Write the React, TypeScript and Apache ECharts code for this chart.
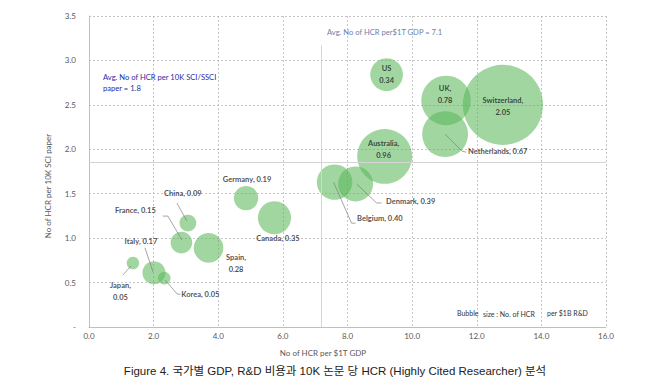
import React, { useEffect, useRef } from 'react';
import * as echarts from 'echarts';

const countries = ['Japan', 'Korea', 'Italy', 'France', 'China', 'Spain', 'Germany', 'Canada', 'Belgium', 'Denmark', 'Australia', 'US', 'Netherlands', 'UK', 'Switzerland'];
const hcrPerGdp = [1.36, 2.33, 2.01, 2.86, 3.06, 3.70, 4.86, 5.74, 7.60, 8.25, 9.15, 9.21, 11.02, 11.05, 12.81];
const hcrPerPaper = [0.72, 0.55, 0.61, 0.95, 1.17, 0.89, 1.45, 1.23, 1.63, 1.61, 1.92, 2.84, 2.17, 2.55, 2.50];
const hcrPerRD = [0.05, 0.05, 0.17, 0.15, 0.09, 0.28, 0.19, 0.35, 0.40, 0.39, 0.96, 0.34, 0.67, 0.78, 2.05];

const avgGdpLine = 7.2;
const avgPaperLine = 1.85;
const avgGdpText = 'Avg. No of HCR per$1T GDP = 7.1';
const avgPaperText = 'Avg. No of HCR per 10K SCI/SSCI\npaper = 1.8';

const xMin = 0, xMax = 16, xStep = 2;
const yMin = 0, yMax = 3.5, yStep = 0.5;

type LS = { off: [number, number]; align?: 'left' | 'center'; lines?: 1 | 2; comma?: boolean; leader?: number[][] };
const labelStyle: Record<string, LS> = {
  Japan: { off: [-12.5, 28.5], lines: 2, leader: [[-2, 3], [-10, 12]] },
  Korea: { off: [17, 16.5], align: 'left', leader: [[1, 2], [13, 16], [16, 16]] },
  Italy: { off: [-13, -31], leader: [[-9, -25], [-1, -1]] },
  France: { off: [-46, -32.5], leader: [[-18.5, -26.5], [-13.5, -26.5], [0.5, -2.5]] },
  China: { off: [-5, -30], leader: [[-11, -20], [-1, -2]] },
  Spain: { off: [27.5, 15.5], lines: 2 },
  Germany: { off: [1, -19] },
  Canada: { off: [3.5, 20.5] },
  Belgium: { off: [22.5, 36.5], align: 'left', leader: [[-1, 0], [17, 41], [21, 41]] },
  Denmark: { off: [30.5, 17.5], align: 'left', leader: [[1, 0], [21, 19], [26, 19]] },
  Australia: { off: [-1, -7], lines: 2 },
  US: { off: [0, 0], lines: 2, comma: false },
  Netherlands: { off: [23, 17.5], align: 'left', leader: [[0, 0], [17, 17], [21, 18]] },
  UK: { off: [-1, -6], lines: 2 },
  Switzerland: { off: [0, 2], lines: 2 },
};

const FONT = 'Lato, "Noto Sans", sans-serif';

export default function App() {
  const ref = useRef<HTMLDivElement>(null);
  useEffect(() => {
    if (!ref.current) return;
    const chart = echarts.init(ref.current, undefined, { renderer: 'svg' });
    const data = countries.map((c, i) => {
      const s = labelStyle[c];
      const v = hcrPerRD[i].toFixed(2);
      const txt = s.lines === 2 ? (s.comma === false ? `${c}\n${v}` : `${c},\n${v}`) : `${c}, ${v}`;
      return {
        name: c,
        value: [hcrPerGdp[i], hcrPerPaper[i], hcrPerRD[i]],
        label: {
          formatter: txt,
          offset: s.off,
          align: s.align || 'center',
        },
      };
    });
    const baseGraphics: any[] = [
      {
        type: 'text', x: 327, y: 32,
        style: { text: avgGdpText, fontSize: 7.6, fontFamily: FONT, fill: '#6f80a8', align: 'left', verticalAlign: 'middle' },
      },
      {
        type: 'text', x: 103, y: 82,
        style: { text: avgPaperText, fontSize: 7.6, fontFamily: FONT, fill: '#2a2aa6', align: 'left', verticalAlign: 'middle', lineHeight: 11 },
      },
      {
        type: 'text', x: 457, y: 313,
        style: { text: 'Bubble', fontSize: 7, fontFamily: FONT, fill: '#333', align: 'left', verticalAlign: 'middle' },
      },
      {
        type: 'text', x: 483, y: 313.5,
        style: { text: 'size : No. of HCR', fontSize: 7, fontFamily: FONT, fill: '#333', align: 'left', verticalAlign: 'middle' },
      },
      {
        type: 'text', x: 547, y: 313,
        style: { text: 'per $1B R&D', fontSize: 7, fontFamily: FONT, fill: '#333', align: 'left', verticalAlign: 'middle' },
      },
      {
        type: 'text', x: 323, y: 353,
        style: { text: 'No of HCR per $1T GDP', fontSize: 8, fontFamily: FONT, fill: '#595959', align: 'center', verticalAlign: 'middle' },
      },
      {
        type: 'text', x: 48, y: 186, rotation: Math.PI / 2,
        style: { text: 'No of HCR per 10K SCI paper', fontSize: 8, fontFamily: FONT, fill: '#595959', align: 'center', verticalAlign: 'middle' },
      },
      {
        type: 'text', x: 335, y: 371,
        style: { text: 'Figure 4. 국가별 GDP, R&D 비용과 10K 논문 당 HCR (Highly Cited Researcher) 분석', fontSize: 11.5, fontFamily: '"Liberation Sans", Arial, "Noto Sans CJK KR", sans-serif', fill: '#222', align: 'center', verticalAlign: 'middle' },
      },
    ];
    chart.setOption({
      animation: false,
      grid: { left: 89, right: 44, top: 16, bottom: 54, containLabel: false },
      xAxis: {
        type: 'value', min: xMin, max: xMax, interval: xStep,
        axisLine: { show: true, lineStyle: { color: '#bfbfbf', width: 1 } },
        axisTick: { show: false },
        axisLabel: { color: '#595959', fontSize: 8, fontFamily: FONT, margin: 5, formatter: (v: number) => v.toFixed(1) },
        splitLine: { show: true, lineStyle: { color: '#b8b8b8', type: [2, 2], width: 0.8 } },
      },
      yAxis: {
        type: 'value', min: yMin, max: yMax, interval: yStep,
        axisLine: { show: true, lineStyle: { color: '#bfbfbf', width: 1 } },
        axisTick: { show: false },
        axisLabel: { color: '#595959', fontSize: 8, fontFamily: FONT, margin: 13, formatter: (v: number) => (v === 0 ? '-' : v.toFixed(1)) },
        splitLine: { show: true, lineStyle: { color: '#b8b8b8', type: [2, 2], width: 0.8 } },
      },
      series: [
        {
          type: 'scatter',
          data,
          symbolSize: (v: number[]) => 56 * Math.sqrt(v[2]),
          itemStyle: { color: 'rgba(88,182,88,0.7)', borderWidth: 0 },
          emphasis: { disabled: true },
          label: {
            show: true, position: 'inside', fontSize: 7.5, fontWeight: 'bold', fontFamily: FONT,
            color: '#1e1e1e', verticalAlign: 'middle', lineHeight: 12,
          },
          markLine: {
            silent: true, symbol: 'none', label: { show: false },
            lineStyle: { color: '#d4d4d4', type: 'solid', width: 1 },
            data: [
              [{ coord: [avgGdpLine, 3.17] }, { coord: [avgGdpLine, yMin] }],
              [{ coord: [xMin, avgPaperLine] }, { coord: [xMax, avgPaperLine] }],
            ],
          },
        },
      ],
      graphic: baseGraphics,
    });
    const leaders: any[] = [];
    countries.forEach((c, i) => {
      const s = labelStyle[c];
      if (!s.leader) return;
      const p = chart.convertToPixel({ seriesIndex: 0 }, [hcrPerGdp[i], hcrPerPaper[i]]) as number[];
      leaders.push({
        type: 'polyline', silent: true, z: 5,
        shape: { points: s.leader.map(([dx, dy]) => [p[0] + dx, p[1] + dy]) },
        style: { stroke: '#808080', lineWidth: 0.7, fill: 'none' },
      });
    });
    chart.setOption({ graphic: [...baseGraphics, ...leaders] }, { replaceMerge: ['graphic'] });
    return () => chart.dispose();
  }, []);
  return <div ref={ref} style={{ position: 'fixed', left: 0, top: 0, width: 650, height: 381, background: '#fff' }} />;
}
